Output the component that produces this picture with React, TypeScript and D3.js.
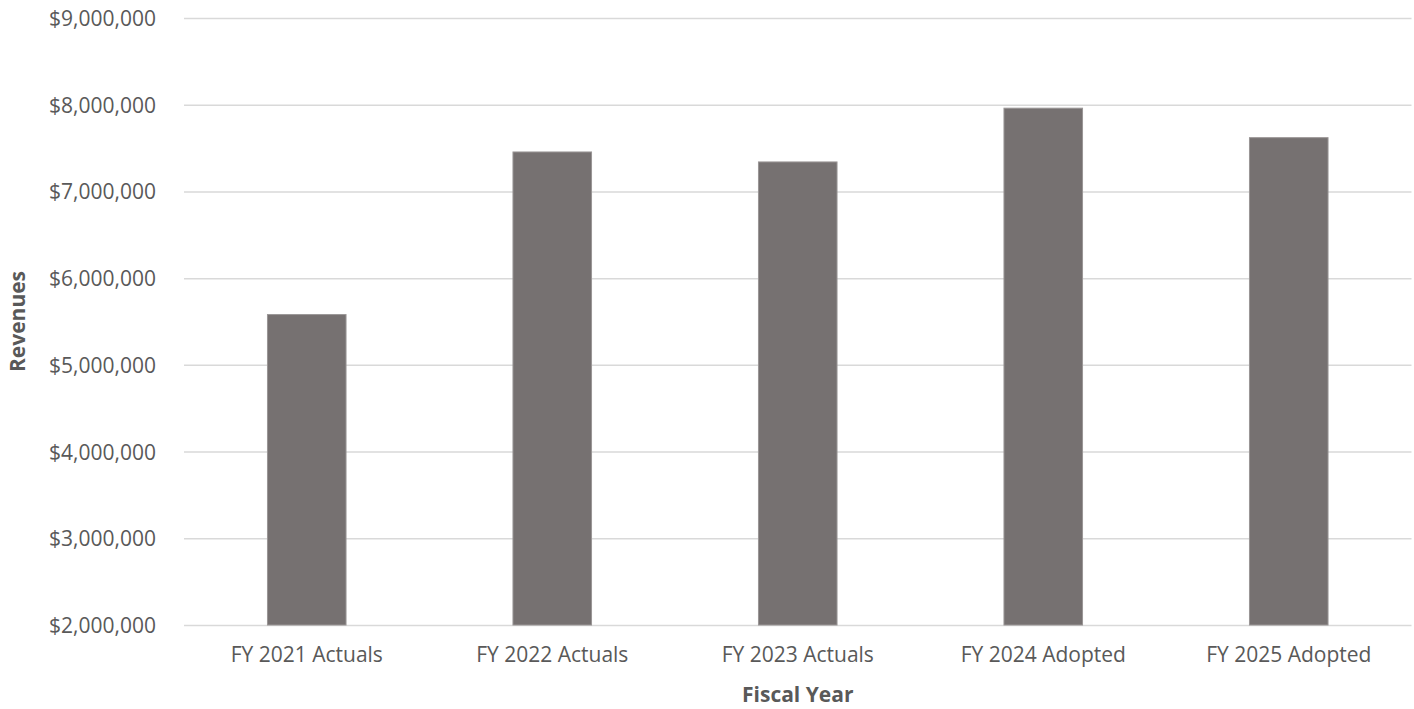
import { useRef, useEffect } from 'react'
import * as d3 from 'd3'

const categories = ['FY 2021 Actuals', 'FY 2022 Actuals', 'FY 2023 Actuals', 'FY 2024 Adopted', 'FY 2025 Adopted']
const revenues = [5580000, 7455000, 7340000, 7960000, 7620000]
const yTicks = [2000000, 3000000, 4000000, 5000000, 6000000, 7000000, 8000000, 9000000]

export default function App() {
  const svgRef = useRef<SVGSVGElement>(null)

  useEffect(() => {
    if (!svgRef.current) return
    const svg = d3.select(svgRef.current)
    svg.selectAll('*').remove()

    const totalWidth = 1414
    const totalHeight = 709
    const margin = { top: 18, right: 2.5, bottom: 84, left: 184 }
    const width = totalWidth - margin.left - margin.right
    const height = totalHeight - margin.top - margin.bottom
    const font = "'Open Sans', Calibri, sans-serif"

    svg.attr('width', totalWidth).attr('height', totalHeight)
    const g = svg.append('g').attr('transform', `translate(${margin.left},${margin.top})`)

    const x = d3.scaleBand<string>().domain(categories).range([0, width]).paddingInner(0.68).paddingOuter(0.34)
    const y = d3.scaleLinear().domain([2000000, 9000000]).range([height, 0])

    // Grid lines
    g.append('g')
      .call(d3.axisLeft(y).tickValues(yTicks).tickSize(-width).tickFormat(() => ''))
      .call((g) => {
        g.select('.domain').remove()
        g.selectAll('.tick line').attr('stroke', '#d9d9d9').attr('stroke-width', 1.5)
        g.selectAll('.tick text').remove()
      })

    // Bars
    g.selectAll('rect.bar')
      .data(categories)
      .join('rect')
      .attr('class', 'bar')
      .attr('x', (d) => x(d) as number)
      .attr('width', x.bandwidth())
      .attr('y', (_, i) => y(revenues[i]))
      .attr('height', (_, i) => height - y(revenues[i]))
      .attr('fill', '#767171')
      .attr('stroke', '#9a9696')
      .attr('stroke-width', 1)

    // Y axis labels
    const fmt = d3.format('$,')
    g.append('g')
      .call(d3.axisLeft(y).tickValues(yTicks).tickSize(0).tickPadding(28).tickFormat((d) => fmt(d as number)))
      .call((g) => {
        g.select('.domain').remove()
        g.selectAll('.tick text')
          .attr('fill', '#595959')
          .attr('font-size', '21px')
          .attr('font-family', font)
          .attr('dy', '0.36em')
      })

    // X axis labels
    g.append('g')
      .attr('transform', `translate(0,${height})`)
      .call(d3.axisBottom(x).tickSize(0).tickPadding(22))
      .call((g) => {
        g.select('.domain').remove()
        g.selectAll('.tick text')
          .attr('fill', '#595959')
          .attr('font-size', '21px')
          .attr('font-family', font)
          .attr('dy', '0.71em')
      })

    // Axis titles
    svg.append('text')
      .attr('x', margin.left + width / 2)
      .attr('y', 702)
      .attr('text-anchor', 'middle')
      .attr('fill', '#595959')
      .attr('font-size', '21px')
      .attr('font-weight', 'bold')
      .attr('font-family', font)
      .text('Fiscal Year')

    svg.append('text')
      .attr('transform', `translate(25,${margin.top + height / 2}) rotate(-90)`)
      .attr('text-anchor', 'middle')
      .attr('fill', '#595959')
      .attr('font-size', '21px')
      .attr('font-weight', 'bold')
      .attr('font-family', font)
      .text('Revenues')
  }, [])

  return (
    <div style={{ position: 'absolute', top: 0, left: 0, width: 1414, height: 709, background: '#fff' }}>
      <svg ref={svgRef} style={{ display: 'block' }} />
    </div>
  )
}
